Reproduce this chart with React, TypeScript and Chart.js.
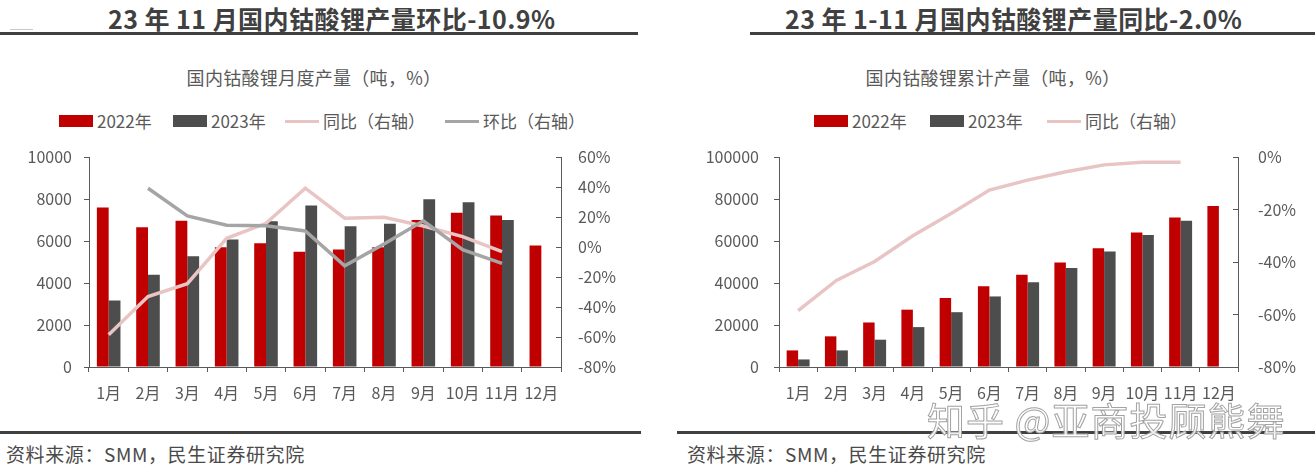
import React, { useEffect, useRef } from "react";
import { Chart, registerables } from "chart.js";

Chart.register(...registerables);

// ---------- data ----------
const months = ["1月", "2月", "3月", "4月", "5月", "6月", "7月", "8月", "9月", "10月", "11月", "12月"];

// monthly output (tons)
const monthly2022 = [7600, 6650, 6970, 5700, 5890, 5490, 5600, 5700, 7000, 7340, 7210, 5780];
const monthly2023 = [3170, 4390, 5270, 6070, 6940, 7690, 6700, 6820, 7990, 7850, 7000];
// monthly YoY / MoM (%)
const monthlyYoY = [-58.5, -33, -24.5, 5.8, 15.8, 39.2, 19.2, 19.8, 14, 6.9, -3.1];
const monthlyMoM = [null, 39.2, 20.7, 14.5, 14.2, 10.7, -12.5, 2.0, 17.5, -1.8, -10.9];

// cumulative output (tons)
const cum2022 = [7900, 14600, 21200, 27300, 32800, 38400, 43900, 49800, 56600, 64000, 71200, 76700];
const cum2023 = [3600, 7900, 13000, 19000, 26100, 33600, 40400, 47100, 55000, 62900, 69700];
const cumYoY = [-58.5, -47, -39.8, -30, -21.5, -12.6, -8.8, -5.6, -3.0, -2.0, -2.0];

// axis ranges
const leftMonthlyAxis = { min: 0, max: 10000, step: 2000 };
const rightMonthlyAxis = { min: -80, max: 60, step: 20 };
const leftCumAxis = { min: 0, max: 100000, step: 20000 };
const rightCumAxis = { min: -80, max: 0, step: 20 };

// texts
const titleLeft = "23 年 11 月国内钴酸锂产量环比-10.9%";
const titleRight = "23 年 1-11 月国内钴酸锂产量同比-2.0%";
const subLeft = "国内钴酸锂月度产量（吨，%）";
const subRight = "国内钴酸锂累计产量（吨，%）";
const sourceText = "资料来源：SMM，民生证券研究院";
const watermark = "知乎 @亚商投顾熊舞";

// ---------- styles ----------
const FONT = '"Noto Sans CJK SC", "Noto Sans", sans-serif';
const AXIS = "#595959";
const RED = "#C00000";
const DARK = "#4D4D4D";
const PINK = "#E8C5C4";
const GRAY = "#A5A5A5";
const TITLE_COLOR = "#404040";

Chart.defaults.font.family = FONT;

type AxisCfg = { min: number; max: number; step: number };

function makeConfig(
  labels: string[],
  datasets: any[],
  left: AxisCfg,
  right: AxisCfg,
  leftW: number,
  rightW: number,
  leftPad: number,
  rightPad: number,
  topPad: number
): any {
  const tickFont = { family: FONT, size: 16 };
  return {
    type: "bar",
    data: { labels, datasets },
    options: {
      responsive: false,
      animation: false,
      devicePixelRatio: 1,
      layout: { padding: { top: topPad, left: 0, right: 0, bottom: 0 } },
      plugins: {
        legend: { display: false },
        title: { display: false },
        tooltip: { enabled: false },
      },
      scales: {
        x: {
          type: "category",
          offset: true,
          grid: {
            display: true,
            offset: true,
            drawOnChartArea: false,
            drawTicks: true,
            tickLength: 5,
            color: AXIS,
          },
          border: { display: true, color: AXIS, width: 1 },
          ticks: { color: AXIS, font: tickFont, padding: 11, maxRotation: 0, autoSkip: false },
          afterFit: (s: any) => {
            s.height = 53;
          },
        },
        y: {
          position: "left",
          min: left.min,
          max: left.max,
          grid: { drawOnChartArea: false, drawTicks: true, tickLength: 5, color: AXIS },
          border: { display: true, color: AXIS, width: 1 },
          ticks: {
            stepSize: left.step,
            color: AXIS,
            font: tickFont,
            padding: leftPad,
            callback: (v: any) => String(v),
          },
          afterFit: (s: any) => {
            s.width = leftW;
          },
        },
        y1: {
          position: "right",
          min: right.min,
          max: right.max,
          grid: { drawOnChartArea: false, drawTicks: true, tickLength: -5, color: AXIS },
          border: { display: true, color: AXIS, width: 1 },
          ticks: {
            stepSize: right.step,
            color: AXIS,
            font: tickFont,
            padding: rightPad,
            callback: (v: any) => v + "%",
          },
          afterFit: (s: any) => {
            s.width = rightW;
          },
        },
      },
    },
  };
}

function barSet(label: string, data: number[], color: string) {
  return {
    type: "bar",
    label,
    data,
    backgroundColor: color,
    yAxisID: "y",
    order: 2,
    categoryPercentage: 0.6,
    barPercentage: 1.0,
  };
}

function lineSet(label: string, data: (number | null)[], color: string, order: number) {
  return {
    type: "line",
    label,
    data,
    borderColor: color,
    backgroundColor: color,
    borderWidth: 3.5,
    pointRadius: 0,
    tension: 0,
    yAxisID: "y1",
    order,
    spanGaps: false,
  };
}

function ChartCanvas(props: { config: any; left: number; top: number; width: number; height: number }) {
  const ref = useRef<HTMLCanvasElement | null>(null);
  useEffect(() => {
    if (!ref.current) return;
    const chart = new Chart(ref.current, props.config);
    return () => chart.destroy();
  }, []);
  return (
    <canvas
      ref={ref}
      width={props.width}
      height={props.height}
      style={{ position: "absolute", left: props.left, top: props.top, width: props.width, height: props.height }}
    />
  );
}

function LegendItem(props: { x: number; kind: "box" | "line"; color: string; text: string }) {
  const sw =
    props.kind === "box" ? (
      <div style={{ width: 34, height: 12, background: props.color }} />
    ) : (
      <div style={{ width: 34, height: 3, background: props.color }} />
    );
  return (
    <div
      style={{
        position: "absolute",
        left: props.x,
        top: 110,
        height: 22,
        display: "flex",
        alignItems: "center",
        whiteSpace: "nowrap",
      }}
    >
      {sw}
      <span style={{ marginLeft: 4, fontSize: 17, color: AXIS, fontFamily: FONT, lineHeight: "22px" }}>{props.text}</span>
    </div>
  );
}

function Bar(props: { left: number; top: number; width: number; height: number; color?: string }) {
  return (
    <div
      style={{
        position: "absolute",
        left: props.left,
        top: props.top,
        width: props.width,
        height: props.height,
        background: props.color || "#404040",
      }}
    />
  );
}

function Text(props: {
  left: number;
  top: number;
  size: number;
  text: string;
  bold?: boolean;
  color?: string;
  center?: boolean;
  width?: number;
  spacing?: number;
}) {
  return (
    <div
      style={{
        position: "absolute",
        left: props.left,
        top: props.top,
        width: props.width,
        textAlign: props.center ? "center" : "left",
        fontSize: props.size,
        fontWeight: props.bold ? 700 : 400,
        color: props.color || AXIS,
        fontFamily: FONT,
        lineHeight: props.size + 4 + "px",
        letterSpacing: props.spacing || 0,
        whiteSpace: "nowrap",
      }}
    >
      {props.text}
    </div>
  );
}

export default function App() {
  const leftConfig = makeConfig(
    months,
    [
      barSet("2022年", monthly2022, RED),
      barSet("2023年", monthly2023, DARK),
      lineSet("同比（右轴）", monthlyYoY, PINK, 1),
      lineSet("环比（右轴）", monthlyMoM, GRAY, 0),
    ],
    leftMonthlyAxis,
    rightMonthlyAxis,
    89,
    79,
    12,
    22,
    32
  );
  const rightConfig = makeConfig(
    months,
    [
      barSet("2022年", cum2022, RED),
      barSet("2023年", cum2023, DARK),
      lineSet("同比（右轴）", cumYoY, PINK, 0),
    ],
    leftCumAxis,
    rightCumAxis,
    119,
    77,
    15,
    25,
    35
  );

  return (
    <div
      style={{
        position: "absolute",
        left: 0,
        top: 0,
        width: 1315,
        height: 473,
        background: "#ffffff",
        overflow: "hidden",
        fontFamily: FONT,
      }}
    >
      {/* titles */}
      <Text left={108} top={4} size={25} spacing={0.45} bold text={titleLeft} color={TITLE_COLOR} />
      <Text left={785} top={4} size={25} spacing={0.45} bold text={titleRight} color={TITLE_COLOR} />
      <Bar left={0} top={32} width={638} height={3} />
      <Bar left={750} top={32} width={565} height={3} />
      <Bar left={10} top={29} width={23} height={1} color="#c8c8c8" />

      {/* subtitles */}
      <Text left={114} top={66} width={400} center size={18} spacing={0.3} text={subLeft} />
      <Text left={793} top={66} width={400} center size={18} spacing={0.3} text={subRight} />

      {/* legends */}
      <LegendItem x={59} kind="box" color={RED} text="2022年" />
      <LegendItem x={173} kind="box" color={DARK} text="2023年" />
      <LegendItem x={285} kind="line" color={PINK} text="同比（右轴）" />
      <LegendItem x={445} kind="line" color={GRAY} text="环比（右轴）" />

      <LegendItem x={814} kind="box" color={RED} text="2022年" />
      <LegendItem x={930} kind="box" color={DARK} text="2023年" />
      <LegendItem x={1047} kind="line" color={PINK} text="同比（右轴）" />

      {/* charts */}
      <ChartCanvas config={leftConfig} left={0} top={125} width={640} height={295} />
      <ChartCanvas config={rightConfig} left={660} top={122} width={655} height={298} />

      {/* bottom rules and sources */}
      <Bar left={0} top={431} width={641} height={3} />
      <Bar left={677} top={431} width={638} height={3} />
      <Text left={6} top={442} size={19} spacing={0.6} text={sourceText} color="#4a4a4a" />
      <Text left={687} top={442} size={19} spacing={0.6} text={sourceText} color="#4a4a4a" />

      {/* watermark */}
      <div
        style={{
          position: "absolute",
          left: 927,
          top: 398,
          fontSize: 38,
          lineHeight: "42px",
          fontFamily: FONT,
          color: "rgba(255,255,255,0.9)",
          WebkitTextStroke: "1px #a3a3a3",
          letterSpacing: 1,
          whiteSpace: "nowrap",
        }}
      >
        {watermark}
      </div>
    </div>
  );
}
